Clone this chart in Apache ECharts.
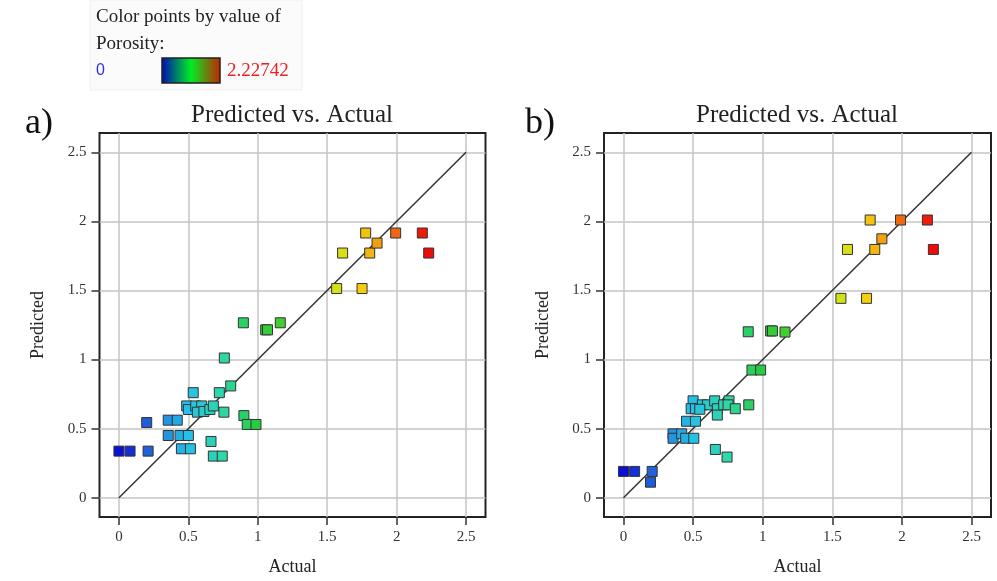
<!DOCTYPE html>
<html>
<head>
	<meta charset="utf-8">
	<title>Predicted vs. Actual</title>
	<script src="https://cdn.jsdelivr.net/npm/echarts@6/dist/echarts.min.js"></script>
	<style>
		body { margin: 0; background: #fff; }
		#box_1 { width: 997px; height: 581px; }
	</style>
</head>
<body>
	<div id="box_1"></div>
<script>
	// a) panel
	var actualA = [0, 0.08, 0.21, 0.2, 0.355, 0.42, 0.355, 0.44, 0.5, 0.45, 0.515, 0.535, 0.488, 0.5, 0.553, 0.596, 0.565, 0.612, 0.655, 0.68, 0.723, 0.756, 0.805, 0.759, 0.663, 0.68, 0.744, 0.9, 0.924, 0.987, 0.896, 1.057, 1.07, 1.162, 1.568, 1.751, 1.611, 1.806, 1.777, 1.859, 1.993, 2.185, 2.231]
	var predA = [0.337, 0.337, 0.337, 0.544, 0.561, 0.561, 0.45, 0.45, 0.45, 0.354, 0.354, 0.76, 0.664, 0.638, 0.664, 0.664, 0.619, 0.624, 0.638, 0.664, 0.76, 0.619, 0.809, 1.011, 0.407, 0.301, 0.301, 0.594, 0.53, 0.53, 1.266, 1.215, 1.215, 1.266, 1.514, 1.514, 1.771, 1.771, 1.916, 1.843, 1.916, 1.916, 1.771]
	// b) panel
	var actualB = [0, 0.08, 0.206, 0.194, 0.356, 0.356, 0.418, 0.447, 0.505, 0.453, 0.517, 0.5, 0.486, 0.517, 0.567, 0.603, 0.548, 0.655, 0.674, 0.674, 0.72, 0.758, 0.751, 0.803, 0.9, 0.66, 0.744, 0.923, 0.985, 0.896, 1.057, 1.07, 1.16, 1.562, 1.746, 1.609, 1.805, 1.772, 1.856, 1.99, 2.183, 2.226]
	var predB = [0.19, 0.19, 0.19, 0.112, 0.462, 0.43, 0.462, 0.43, 0.43, 0.553, 0.553, 0.701, 0.644, 0.644, 0.672, 0.672, 0.64, 0.701, 0.644, 0.598, 0.672, 0.701, 0.672, 0.644, 0.672, 0.349, 0.294, 0.924, 0.924, 1.201, 1.207, 1.207, 1.199, 1.443, 1.443, 1.797, 1.797, 2.01, 1.874, 2.01, 2.01, 1.797]
	var tickValues = [0, 0.5, 1, 1.5, 2, 2.5]
	var diagonal = [[0, 0], [2.5, 2.5]]
	var porosityMin = 0
	var porosityMax = 2.22742

	var serif = '"Liberation Serif", "DejaVu Serif", serif'
	var myChart = echarts.init(document.getElementById('box_1'))

	function pairs(xs, ys) {
		var out = []
		for (var i = 0; i < xs.length; i++) {
			out.push([xs[i], ys[i]])
		}
		return out
	}

	function makeAxis(idx, name, gap, isY) {
		return {
			type: 'value',
			gridIndex: idx,
			min: -0.14,
			max: 2.64,
			name: name,
			nameLocation: 'middle',
			nameGap: gap,
			nameTextStyle: { fontFamily: serif, fontSize: 18, color: '#222' },
			axisLine: { show: false, onZero: false },
			axisTick: {
				show: true,
				length: 8,
				customValues: tickValues,
				lineStyle: { color: '#333', width: 1.5 }
			},
			axisLabel: {
				customValues: tickValues,
				fontFamily: serif,
				fontSize: 15,
				color: '#333',
				margin: isY ? 13 : 13
			},
			splitLine: {
				show: true,
				lineStyle: { color: '#c4c4c4', width: 1.5 }
			}
		}
	}

	function scatter(idx, data) {
		return {
			type: 'scatter',
			xAxisIndex: idx,
			yAxisIndex: idx,
			symbol: 'rect',
			symbolSize: 10,
			itemStyle: { borderColor: '#333', borderWidth: 1, opacity: 1 },
			data: data,
			z: 3
		}
	}

	function diag(idx) {
		return {
			type: 'line',
			xAxisIndex: idx,
			yAxisIndex: idx,
			data: diagonal,
			showSymbol: false,
			symbol: 'none',
			lineStyle: { color: '#333', width: 1.5 },
			z: 2
		}
	}

	var option = {
		backgroundColor: '#fff',
		animation: false,
		grid: [
			{ left: 99.5, top: 133, width: 386, height: 385.5, show: true, borderColor: '#222', borderWidth: 2 },
			{ left: 604, top: 133, width: 387, height: 387.5, show: true, borderColor: '#222', borderWidth: 2 }
		],
		xAxis: [makeAxis(0, 'Actual', 41, false), makeAxis(1, 'Actual', 41, false)],
		yAxis: [makeAxis(0, 'Predicted', 52, true), makeAxis(1, 'Predicted', 52, true)],
		// colours the squares by their Actual (porosity) value
		visualMap: {
			type: 'continuous',
			show: false,
			dimension: 0,
			seriesIndex: [0, 2],
			min: porosityMin,
			max: porosityMax,
			inRange: {
				color: ['#0a10d8', '#2470d8', '#24c0ea', '#2ed8a8', '#28cc40', '#4cd028', '#c4e81a', '#f4d410', '#ee6c12', '#ee0a0a']
			}
		},
		graphic: [
			{ type: 'rect', shape: { x: 90, y: 0, width: 212, height: 90 }, style: { fill: '#fbfbfb', stroke: '#f0f0f0' }, z: -10 },
			{ type: 'text', x: 96, y: 17, style: { text: 'Color points by value of', font: '19px ' + serif, fill: '#222', verticalAlign: 'middle' } },
			{ type: 'text', x: 96, y: 44, style: { text: 'Porosity:', font: '19px ' + serif, fill: '#222', verticalAlign: 'middle' } },
			{ type: 'text', x: 96, y: 71, style: { text: '0', font: '16px "Liberation Sans", sans-serif', fill: '#3030e8', verticalAlign: 'middle' } },
			{
				type: 'rect',
				shape: { x: 162, y: 58, width: 58, height: 25 },
				style: {
					fill: new echarts.graphic.LinearGradient(0, 0, 1, 0, [
						{ offset: 0, color: '#0008b8' },
						{ offset: 0.5, color: '#00ee22' },
						{ offset: 1, color: '#c82000' }
					]),
					stroke: '#222',
					lineWidth: 1.5
				}
			},
			{ type: 'text', x: 227, y: 71, style: { text: '2.22742', font: '19px ' + serif, fill: '#ee2020', verticalAlign: 'middle' } },
			{ type: 'text', x: 25, y: 124, style: { text: 'a)', font: '36px ' + serif, fill: '#111', verticalAlign: 'middle' } },
			{ type: 'text', x: 525, y: 124, style: { text: 'b)', font: '36px ' + serif, fill: '#111', verticalAlign: 'middle' } },
			{ type: 'text', x: 292, y: 115, style: { text: 'Predicted vs. Actual', font: '25px ' + serif, fill: '#222', align: 'center', verticalAlign: 'middle' } },
			{ type: 'text', x: 797, y: 115, style: { text: 'Predicted vs. Actual', font: '25px ' + serif, fill: '#222', align: 'center', verticalAlign: 'middle' } }
		],
		series: [
			scatter(0, pairs(actualA, predA)),
			diag(0),
			scatter(1, pairs(actualB, predB)),
			diag(1)
		]
	}
	myChart.setOption(option)
</script>
</body>
</html>
